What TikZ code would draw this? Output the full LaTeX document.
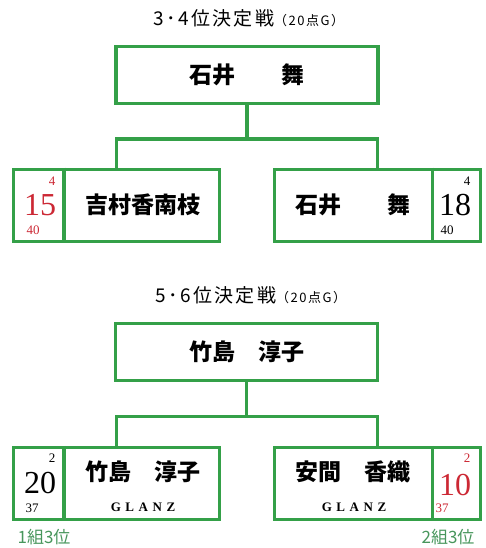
\documentclass[tikz,border=0pt]{standalone}
\usepackage{fontspec}
\setmainfont{Liberation Serif}
\newfontfamily\jpfont{Noto Sans CJK JP}
\usetikzlibrary{positioning}
\definecolor{verde}{RGB}{52,160,72}
\definecolor{rojo}{RGB}{204,40,52}
\definecolor{verdeclaro}{RGB}{72,150,92}

\begin{document}
\begin{tikzpicture}[
        x=1pt, y=-1pt,
        ganador/.style={
            rectangle,
            draw=verde,
            line width=3.5pt,
            minimum width=262pt,
            minimum height=57pt,
            inner sep=0pt,
            font=\jpfont\bfseries\fontsize{23}{23}\selectfont
        },
        jugador/.style={
            rectangle,
            draw=verde,
            line width=3.5pt,
            minimum width=206pt,
            minimum height=72pt,
            inner sep=0pt
        },
        nombre/.style={
            font=\jpfont\bfseries\fontsize{23}{23}\selectfont,
            inner sep=0pt
        },
        equipo/.style={
            font=\bfseries\fontsize{13}{13}\selectfont\addfontfeatures{LetterSpace=35},
            inner sep=0pt
        },
        puntos/.style={
            font=\fontsize{32}{32}\selectfont,
            inner sep=0pt
        },
        juegos/.style={
            font=\fontsize{13}{13}\selectfont,
            inner sep=0pt
        },
        titulo/.style={
            font=\jpfont\fontsize{19}{19}\selectfont\addfontfeatures{LetterSpace=12},
            inner sep=0pt
        },
        grupo/.style={
            font=\jpfont\fontsize{17}{17}\selectfont,
            text=verdeclaro,
            inner sep=0pt
        },
        enlace/.style={
            draw=verde,
            line width=3.5pt
        }
    ]

    \useasboundingbox (0,0) rectangle (485,548);

    % 3-4 puesto
    \node[titulo] (titulo34) at (249,18) {3･4位決定戦{\fontsize{13}{13}\selectfont （20点G）}};

    \node[ganador] (ganador34) at (247,75) {石井　　舞};

    \node[jugador] (jug1) at (116.5,205.5) {};
    \node[jugador] (jug2) at (377.5,205.5) {};

    \draw[enlace] (ganador34.south) -- ++(0,34) coordinate (union34);
    \draw[enlace] (jug1.north) |- (union34) -| (jug2.north);

    \draw[enlace] ([xshift=52pt]jug1.north west) -- ([xshift=52pt]jug1.south west);
    \draw[enlace] ([xshift=-50pt]jug2.north east) -- ([xshift=-50pt]jug2.south east);

    \node[nombre] (nombre1) at (143,205) {吉村香南枝};
    \node[nombre] (nombre2) at (353,205) {石井　　舞};

    \node[puntos, text=rojo] (puntos1) at (40,205) {15};
    \node[juegos, text=rojo] (juegos1) at (52,181) {4};
    \node[juegos, text=rojo] (total1) at (33,230) {40};

    \node[puntos] (puntos2) at (455,205) {18};
    \node[juegos] (juegos2) at (467,181) {4};
    \node[juegos] (total2) at (447,230) {40};

    % 5-6 puesto
    \node[titulo] (titulo56) at (251,295) {5･6位決定戦{\fontsize{13}{13}\selectfont （20点G）}};

    \node[ganador] (ganador56) at (246.5,352) {竹島　淳子};

    \node[jugador] (jug3) at (116.5,483.5) {};
    \node[jugador] (jug4) at (377.5,483.5) {};

    \draw[enlace] (ganador56.south) -- ++(0,34) coordinate (union56);
    \draw[enlace] (jug3.north) |- (union56) -| (jug4.north);

    \draw[enlace] ([xshift=52pt]jug3.north west) -- ([xshift=52pt]jug3.south west);
    \draw[enlace] ([xshift=-50pt]jug4.north east) -- ([xshift=-50pt]jug4.south east);

    \node[nombre] (nombre3) at (143,472) {竹島　淳子};
    \node[equipo] (equipo3) at (143,507) {GLANZ};
    \node[nombre] (nombre4) at (353,472) {安間　香織};
    \node[equipo] (equipo4) at (354,507) {GLANZ};

    \node[puntos] (puntos3) at (40,483) {20};
    \node[juegos] (juegos3) at (52,458) {2};
    \node[juegos] (total3) at (32,508) {37};

    \node[puntos, text=rojo] (puntos4) at (455,485) {10};
    \node[juegos, text=rojo] (juegos4) at (467,458) {2};
    \node[juegos, text=rojo] (total4) at (442,508) {37};

    \node[grupo] (grupo1) at (44,537) {1組3位};
    \node[grupo] (grupo2) at (448,537) {2組3位};

\end{tikzpicture}
\end{document}
